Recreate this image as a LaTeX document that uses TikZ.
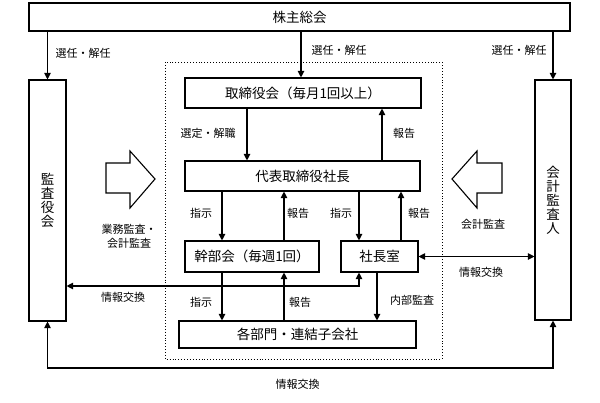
\documentclass[tikz,border=0pt]{standalone}
\usepackage{fontspec}
\setmainfont{Noto Sans CJK JP}
\usetikzlibrary{arrows.meta,calc}
\begin{document}
\begin{tikzpicture}[x=1pt,y=-1pt,
  box/.style={draw,line width=1.1pt,rectangle,inner sep=0pt,font=\fontsize{13.5}{14}\selectfont},
  lbl/.style={font=\fontsize{11}{14}\selectfont,inner sep=0pt,align=center},
  arr/.style={line width=1.1pt,-{Triangle[width=6.5pt,length=6.5pt]}},
  arrboth/.style={line width=1.1pt,{Triangle[width=6.5pt,length=6.5pt]}-{Triangle[width=6.5pt,length=6.5pt]}},
  blockarrow/.style={draw,line width=1.1pt,line join=miter}
]
\useasboundingbox (0,0) rectangle (600,402);
% dotted frame
\draw[dotted,line width=0.9pt] (165,62) rectangle (442,359);

% nodes
\node[box,minimum width=541pt,minimum height=28pt] (kabu) at (299.5,17) {株主総会};
\node[box,minimum width=37pt,minimum height=241pt,align=center] (kansa) at (47.5,200.5) {監\\査\\役\\会};
\node[box,minimum width=36pt,minimum height=240pt,align=center] (kaikei) at (553,200) {会\\計\\監\\査\\人};
\node[box,minimum width=236pt,minimum height=30pt] (tori) at (303,93) {取締役会（毎月1回以上）};
\node[box,minimum width=235pt,minimum height=30pt] (daihyo) at (302.5,176) {代表取締役社長};
\node[box,minimum width=134pt,minimum height=31pt] (kanbu) at (252,256.5) {幹部会（毎週1回）};
\node[box,minimum width=77pt,minimum height=31pt] (shacho) at (379.5,256.5) {社長室};
\node[box,minimum width=237pt,minimum height=27pt] (kakubu) at (297.5,334.5) {各部門・連結子会社};

% arrows from shareholders meeting
\draw[arr] (kansa.north |- kabu.south) -- (kansa.north);
\draw[arr] ([xshift=-2pt]tori.north |- kabu.south) -- ([xshift=-2pt]tori.north);
\draw[arr] (kaikei.north |- kabu.south) -- (kaikei.north);

% board <-> president
\draw[arr] ([xshift=-56pt]tori.south) -- ([xshift=-56pt]tori.south |- daihyo.north);
\draw[arr] ([xshift=79pt]tori.south |- daihyo.north) -- ([xshift=79pt]tori.south);

% president <-> executive meeting
\draw[arr] ([xshift=-30pt]kanbu.north |- daihyo.south) -- ([xshift=-30pt]kanbu.north);
\draw[arr] ([xshift=32pt]kanbu.north) -- ([xshift=32pt]kanbu.north |- daihyo.south);
% president <-> president's office
\draw[arr] ([xshift=-20.5pt]shacho.north |- daihyo.south) -- ([xshift=-20.5pt]shacho.north);
\draw[arr] ([xshift=21.5pt]shacho.north) -- ([xshift=21.5pt]shacho.north |- daihyo.south);

% executive meeting <-> departments
\draw[arr] ([xshift=-30pt]kanbu.south) -- ([xshift=-30pt]kanbu.south |- kakubu.north);
\draw[arr] ([xshift=32pt]kanbu.south |- kakubu.north) -- ([xshift=32pt]kanbu.south);
% president's office -> departments
\draw[arr] ([xshift=-2.5pt]shacho.south) -- ([xshift=-2.5pt]shacho.south |- kakubu.north);

% information exchange lines
\coordinate (b1) at (359,286);
\draw[arrboth] (kansa.east |- b1) -- (b1) -- (b1 |- shacho.south);
\draw[arrboth] (shacho.east) -- (kaikei.west |- shacho.east);
\coordinate (b2) at (0,368);
\draw[arrboth] (kansa.south) -- (kansa.south |- b2) -- (kaikei.south |- b2) -- (kaikei.south);

% block arrows
\draw[blockarrow] (106,163) -- (130,163) -- (130,151) -- (155,179) -- (130,208) -- (130,193) -- (106,193) -- cycle;
\draw[blockarrow] (502,163) -- (477,163) -- (477,151) -- (452,179) -- (477,208) -- (477,193) -- (502,193) -- cycle;

% labels
\node[lbl] (l1) at (83,53) {選任・解任};
\node[lbl] (l2) at (339,50) {選任・解任};
\node[lbl] (l3) at (519,50) {選任・解任};
\node[lbl] (l4) at (208,133) {選定・解職};
\node[lbl] (l5) at (404,133) {報告};
\node[lbl] (l6) at (201,213) {指示};
\node[lbl] (l7) at (298,213) {報告};
\node[lbl] (l8) at (341,213) {指示};
\node[lbl] (l9) at (419,213) {報告};
\node[lbl] (l10) at (129,236) {業務監査・\\会計監査};
\node[lbl] (l11) at (483,224) {会計監査};
\node[lbl] (l12) at (481,272) {情報交換};
\node[lbl] (l13) at (123,297) {情報交換};
\node[lbl] (l14) at (201,302) {指示};
\node[lbl] (l15) at (300,302) {報告};
\node[lbl] (l16) at (412,300) {内部監査};
\node[lbl] (l17) at (297.5,384) {情報交換};
\end{tikzpicture}
\end{document}
